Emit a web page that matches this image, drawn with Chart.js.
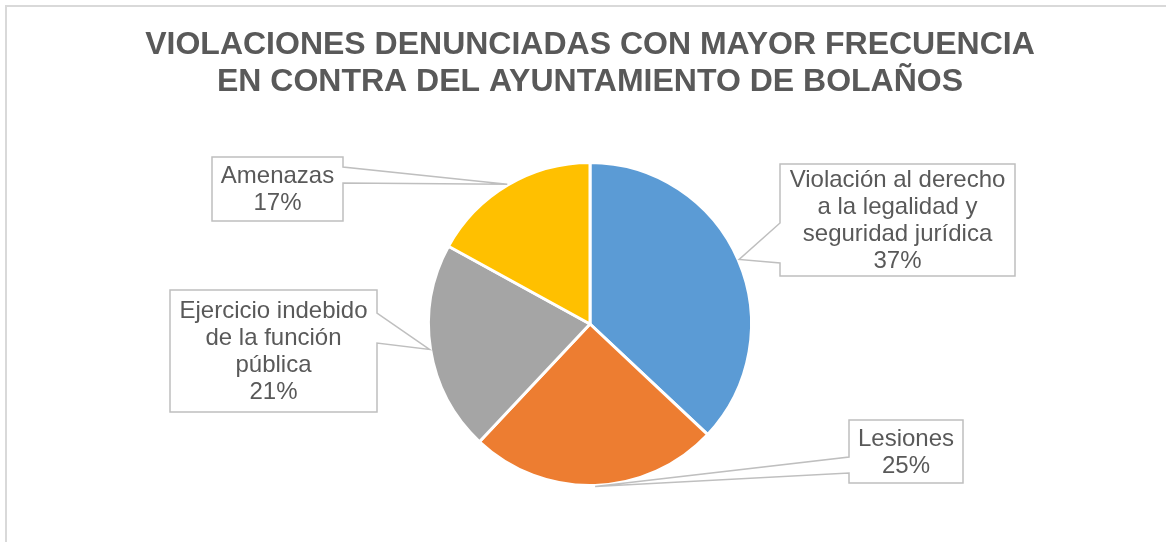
<!DOCTYPE html>
<html>
<head>
<meta charset="utf-8">
<script src="https://cdn.jsdelivr.net/npm/chart.js@4.4.1/dist/chart.umd.min.js"></script>
<style>
  html, body { margin: 0; padding: 0; background: #ffffff; }
  #wrap { width: 1166px; height: 542px; }
</style>
</head>
<body>
<div id="wrap"><canvas id="c" width="1166" height="542"></canvas></div>
<script>
// ---- data ----
const categories = [
  ['Violación al derecho', 'a la legalidad y', 'seguridad jurídica'],
  ['Lesiones'],
  ['Ejercicio indebido', 'de la función', 'pública'],
  ['Amenazas']
];
const values = [37, 25, 21, 17];
const colors = ['#5B9BD5', '#ED7D31', '#A5A5A5', '#FFC000'];
const titleLines = ['VIOLACIONES DENUNCIADAS CON MAYOR FRECUENCIA', 'EN CONTRA DEL AYUNTAMIENTO DE BOLAÑOS'];

// ---- callout layout (relative to pie center) ----
const callouts = [
  { dx: 307.5, dy: -104, w: 235, h: 112, side: 'left', t1: 59, t2: 99 },
  { dx: 316, dy: 127.5, w: 114, h: 63, side: 'left', t1: 37, t2: 53 },
  { dx: -316.5, dy: 27, w: 207, h: 122, side: 'right', t1: 23, t2: 53 },
  { dx: -312.5, dy: -135, w: 131, h: 64, side: 'right', t1: 10, t2: 26 }
];

const FONT = '"Liberation Sans", Arial, sans-serif';

const frame = {
  id: 'frame',
  beforeDraw(chart) {
    const ctx = chart.ctx;
    ctx.save();
    ctx.fillStyle = '#ffffff';
    ctx.fillRect(0, 0, chart.width, chart.height);
    ctx.strokeStyle = '#d9d9d9';
    ctx.lineWidth = 2;
    ctx.strokeRect(6, 6, chart.width + 20, chart.height + 20);
    ctx.restore();
  }
};

const calloutPlugin = {
  id: 'callouts',
  afterDatasetsDraw(chart) {
    const ctx = chart.ctx;
    const meta = chart.getDatasetMeta(0);
    const total = values.reduce((a, b) => a + b, 0);
    meta.data.forEach((arc, i) => {
      const p = arc.getProps(['x', 'y', 'startAngle', 'endAngle', 'outerRadius'], true);
      const mid = (p.startAngle + p.endAngle) / 2;
      const ax = p.x + Math.cos(mid) * (p.outerRadius + 1);
      const ay = p.y + Math.sin(mid) * (p.outerRadius + 1);
      const c = callouts[i];
      const L = p.x + c.dx - c.w / 2, R = p.x + c.dx + c.w / 2;
      const T = p.y + c.dy - c.h / 2, B = p.y + c.dy + c.h / 2;
      ctx.save();
      ctx.beginPath();
      if (c.side === 'left') {
        ctx.moveTo(L, T); ctx.lineTo(R, T); ctx.lineTo(R, B); ctx.lineTo(L, B);
        ctx.lineTo(L, T + c.t2); ctx.lineTo(ax, ay); ctx.lineTo(L, T + c.t1);
      } else {
        ctx.moveTo(L, T); ctx.lineTo(R, T); ctx.lineTo(R, T + c.t1); ctx.lineTo(ax, ay);
        ctx.lineTo(R, T + c.t2); ctx.lineTo(R, B); ctx.lineTo(L, B);
      }
      ctx.closePath();
      ctx.fillStyle = '#ffffff';
      ctx.fill();
      ctx.strokeStyle = '#bfbfbf';
      ctx.lineWidth = 1.5;
      ctx.lineJoin = 'miter';
      ctx.stroke();
      const lines = categories[i].concat([Math.round(values[i] / total * 100) + '%']);
      const lh = 27;
      ctx.fillStyle = '#595959';
      ctx.font = '24px ' + FONT;
      ctx.textAlign = 'center';
      ctx.textBaseline = 'middle';
      const cy = (T + B) / 2;
      const x0 = (L + R) / 2;
      lines.forEach((t, k) => {
        ctx.fillText(t, x0, cy + (k - (lines.length - 1) / 2) * lh + 1);
      });
      ctx.restore();
    });
  }
};

new Chart(document.getElementById('c'), {
  type: 'pie',
  data: {
    labels: categories.map(l => l.join(' ')),
    datasets: [{
      data: values,
      backgroundColor: colors,
      borderColor: '#ffffff',
      borderWidth: 3
    }]
  },
  options: {
    responsive: false,
    animation: false,
    layout: { padding: { top: 0, bottom: 55, left: 100, right: 86 } },
    plugins: {
      legend: { display: false },
      tooltip: { enabled: false },
      title: {
        display: true,
        text: titleLines,
        color: '#595959',
        font: { family: FONT, size: 32, weight: 'bold', lineHeight: 1.15 },
        padding: { top: 27, bottom: 60.4 }
      }
    }
  },
  plugins: [frame, calloutPlugin]
});
</script>
</body>
</html>
